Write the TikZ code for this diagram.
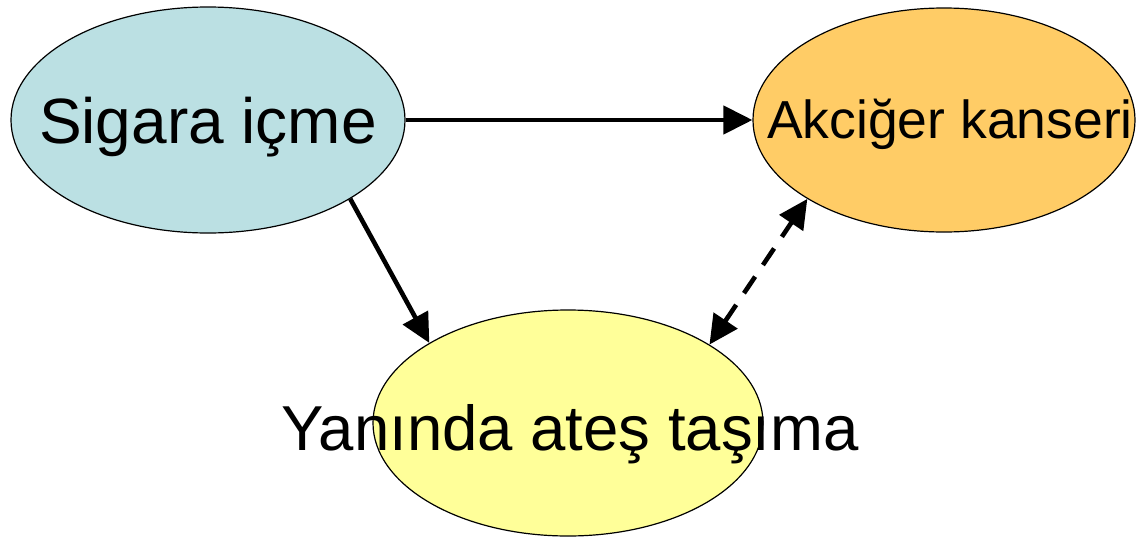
\documentclass[tikz,border=0pt]{standalone}
\usepackage{fontspec}
\setmainfont{Liberation Sans}
\usetikzlibrary{shapes.geometric,arrows.meta}
\definecolor{cblue}{RGB}{187,224,227}
\definecolor{corange}{RGB}{255,204,102}
\definecolor{cyellow}{RGB}{255,255,153}
\tikzset{
  oval/.style={ellipse, draw=black, line width=1.2pt, inner sep=0pt},
  lbl/.style={anchor=base, inner sep=0pt},
  conn/.style={line width=4.6pt, -{Triangle[length=29pt,width=28pt]}},
  dconn/.style={line width=4.6pt, dash pattern=on 20pt off 14pt, {Triangle[length=29pt,width=28pt]}-{Triangle[length=29pt,width=28pt]}}
}
\begin{document}
\begin{tikzpicture}[x=1pt,y=-1pt]
\useasboundingbox (0,0) rectangle (1136,536);
\node[oval, fill=cblue, minimum width=394pt, minimum height=226pt] (s) at (208,120) {};
\node[oval, fill=corange, minimum width=382pt, minimum height=224pt] (a) at (944,120) {};
\node[oval, fill=cyellow, minimum width=390pt, minimum height=226pt] (y) at (568,423) {};
\node[lbl, font=\fontsize{64}{70}\selectfont] (st) at (208,143) {Sigara içme};
\node[lbl, font=\fontsize{53.5}{60}\selectfont] (at) at (950,138) {Akciğer kanseri};
\node[lbl, font=\fontsize{63.5}{70}\selectfont] (yt) at (570,450) {Yanında ateş taşıma};
\draw[conn] (s.east) -- (a.west);
\draw[conn] (s.-29.7) -- (y.150);
\draw[dconn] (y.29) -- (a.210.5);
\end{tikzpicture}
\end{document}
